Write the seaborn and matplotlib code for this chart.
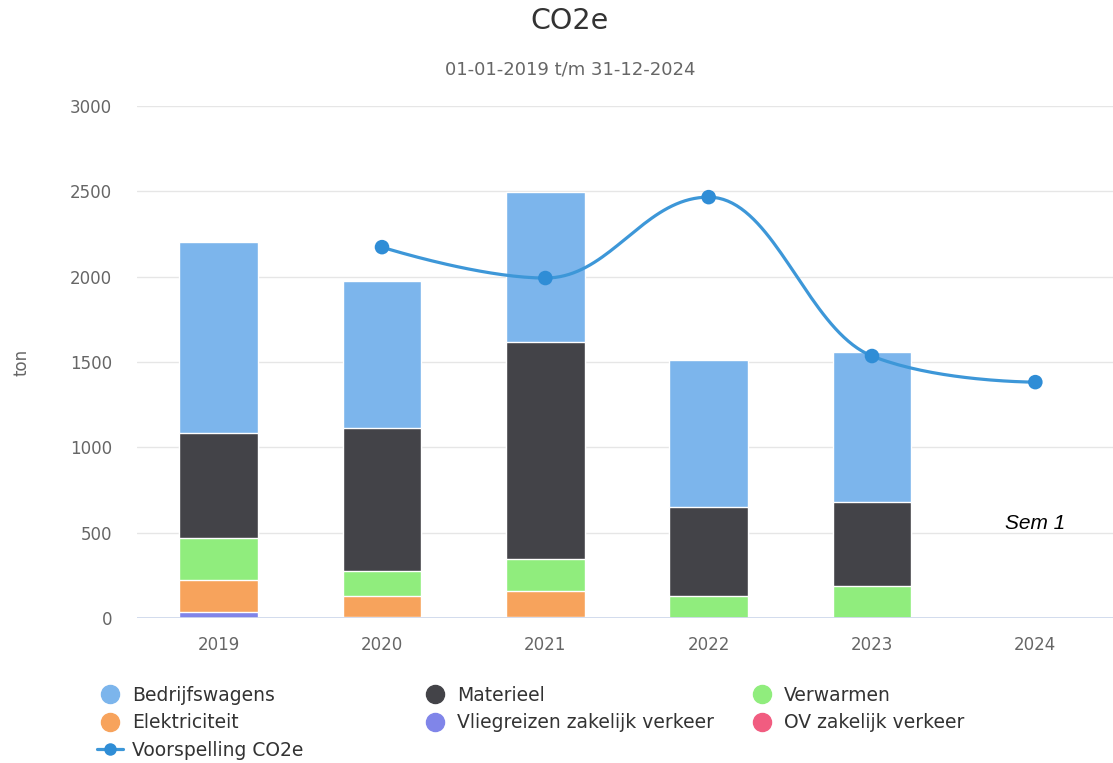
import matplotlib
matplotlib.use('Agg')
import matplotlib.pyplot as plt
from matplotlib.lines import Line2D
import numpy as np
import pandas as pd
import seaborn as sns

# data (ton CO2e)
years = ['2019', '2020', '2021', '2022', '2023', '2024']
bedrijfswagens = [1119, 861, 879, 861, 878, 0]
materieel = [615, 838, 1271, 521, 493, 0]
verwarmen = [246, 146, 188, 129, 187, 0]
elektriciteit = [188, 121, 150, 0, 0, 0]
vliegreizen = [35, 8, 8, 0, 0, 0]
ov_zakelijk = [0, 0, 0, 0, 0, 0]

forecast_years = ['2020', '2021', '2022', '2023', '2024']
forecast_values = [2173, 1992, 2466, 1535, 1382]

# stacking order from top to bottom, as in the chart
series = [
    ('Bedrijfswagens', bedrijfswagens, '#7cb5ec'),
    ('Materieel', materieel, '#434348'),
    ('Verwarmen', verwarmen, '#90ed7d'),
    ('Elektriciteit', elektriciteit, '#f7a35c'),
    ('Vliegreizen zakelijk verkeer', vliegreizen, '#8085e9'),
    ('OV zakelijk verkeer', ov_zakelijk, '#f15c80'),
]
line_color = '#3d97d8'

df = pd.DataFrame({name: vals for name, vals, _ in series}, index=years)

sns.set_theme(style='white')
plt.rcParams['font.family'] = ['DejaVu Sans']

fig = plt.figure(figsize=(11.13, 7.63), dpi=100)
ax = fig.add_axes([137 / 1113, 145 / 763, 980 / 1113, 512 / 763])

# stacked bars: draw cumulative totals from the top layer down
cum = df[df.columns[::-1]].cumsum(axis=1)
for name, _, color in series:
    sns.barplot(x=df.index, y=cum[name].values, color=color, saturation=1,
                width=0.48, edgecolor='white', linewidth=1, errorbar=None,
                ax=ax, zorder=2)


# Highcharts-style spline through the forecast points
def spline_curve(xs, ys, smoothing=1.5, n=40):
    xs = np.asarray(xs, float)
    ys = np.asarray(ys, float)
    denom = smoothing + 1
    right_c = [None] * len(xs)
    left_c = [None] * len(xs)
    for i in range(1, len(xs) - 1):
        lx = (smoothing * xs[i] + xs[i - 1]) / denom
        ly = (smoothing * ys[i] + ys[i - 1]) / denom
        rx = (smoothing * xs[i] + xs[i + 1]) / denom
        ry = (smoothing * ys[i] + ys[i + 1]) / denom
        corr = (ry - ly) * (rx - xs[i]) / (rx - lx) + ys[i] - ry
        ly += corr
        ry += corr
        if ly > ys[i - 1] and ly > ys[i]:
            ly = max(ys[i - 1], ys[i]); ry = 2 * ys[i] - ly
        elif ly < ys[i - 1] and ly < ys[i]:
            ly = min(ys[i - 1], ys[i]); ry = 2 * ys[i] - ly
        if ry > ys[i + 1] and ry > ys[i]:
            ry = max(ys[i + 1], ys[i]); ly = 2 * ys[i] - ry
        elif ry < ys[i + 1] and ry < ys[i]:
            ry = min(ys[i + 1], ys[i]); ly = 2 * ys[i] - ry
        left_c[i] = (lx, ly)
        right_c[i] = (rx, ry)
    px, py = [xs[0]], [ys[0]]
    t = np.linspace(0, 1, n)[1:]
    for i in range(1, len(xs)):
        p0 = (xs[i - 1], ys[i - 1])
        p1 = right_c[i - 1] or p0
        p3 = (xs[i], ys[i])
        p2 = left_c[i] or p3
        bx = (1 - t) ** 3 * p0[0] + 3 * (1 - t) ** 2 * t * p1[0] + 3 * (1 - t) * t ** 2 * p2[0] + t ** 3 * p3[0]
        by = (1 - t) ** 3 * p0[1] + 3 * (1 - t) ** 2 * t * p1[1] + 3 * (1 - t) * t ** 2 * p2[1] + t ** 3 * p3[1]
        px.extend(bx); py.extend(by)
    return np.array(px), np.array(py)


fx = [years.index(y) for y in forecast_years]
cx, cy = spline_curve(fx, forecast_values)
sns.lineplot(x=cx, y=cy, sort=False, color=line_color, linewidth=2.3, ax=ax, zorder=4)
sns.scatterplot(x=fx, y=forecast_values, color='#2f8dd6', s=110, edgecolor='none',
                ax=ax, zorder=5)

# axes styling
ax.set_ylim(0, 3000)
ax.set_xlim(-0.5, 5.5)
ax.set_yticks(range(0, 3001, 500))
ax.set_xticks(range(len(years)))
ax.set_xticklabels(years)
ax.grid(axis='y', color='#e6e6e6', linewidth=1, zorder=0)
ax.grid(axis='x', visible=False)
ax.set_axisbelow(True)
ax.axhline(0, color='#ccd6eb', linewidth=1.2, zorder=6)
for s in ax.spines.values():
    s.set_visible(False)
ax.tick_params(axis='y', length=0, pad=18, labelsize=12, labelcolor='#666666')
ax.tick_params(axis='x', length=0, pad=13, labelsize=12, labelcolor='#666666')
ax.set_xlabel('')
ax.set_ylabel('ton', fontsize=12, color='#666666')
ax.yaxis.set_label_coords(-0.109, 0.5)

ax.text(5, 556, 'Sem 1', ha='center', va='center', fontsize=15, style='italic',
        family='Liberation Sans', color='black')

fig.text(569.5 / 1113, 1 - 21 / 763, 'CO2e', ha='center', va='center', fontsize=20.5, color='#333333')
fig.text(570 / 1113, 1 - 69 / 763, '01-01-2019 t/m 31-12-2024', ha='center', va='center',
         fontsize=13, color='#666666')


# legend, three columns filled row-wise like the original
def dot(color):
    return Line2D([], [], marker='o', linestyle='none', markersize=13, color=color)


handles = {name: dot(color) for name, _, color in series}
handles['Voorspelling CO2e'] = Line2D([], [], marker='o', color=line_color, linewidth=2.3,
                                      markersize=9, markerfacecolor='#2f8dd6', markeredgewidth=0)
columns = [
    (97, ['Bedrijfswagens', 'Elektriciteit', 'Voorspelling CO2e']),
    (422, ['Materieel', 'Vliegreizen zakelijk verkeer']),
    (749, ['Verwarmen', 'OV zakelijk verkeer']),
]
for left, names in columns:
    fig.legend([handles[n] for n in names], names, loc='upper left',
               bbox_to_anchor=(left / 1113, 1 - 686 / 763), frameon=False,
               borderpad=0, borderaxespad=0, handlelength=1.4, handletextpad=0.45,
               labelspacing=0.44, fontsize=13.5, labelcolor='#333333')

fig.savefig('out.png', dpi=100)
